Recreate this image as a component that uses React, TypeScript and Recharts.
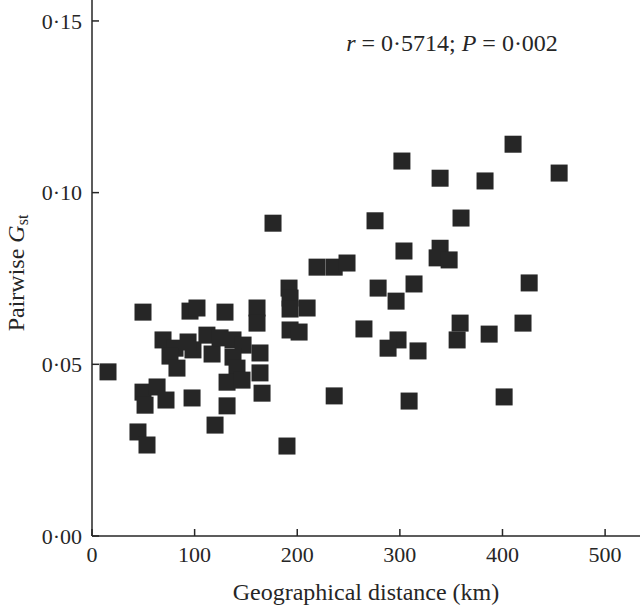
import { ScatterChart, Scatter, XAxis, YAxis, Label } from 'recharts'

// distance (km) and pairwise Gst
const distanceKm = [
  15.6, 49.7, 49.7, 63.4, 51.7, 72.1, 44.8, 53.6, 69.2, 80.9,
  76.0, 82.8, 98.4, 93.6, 112, 117, 124.8, 137.4, 147.2, 137.4,
  163.7, 141.3, 131.6, 146.2, 163.7, 165.7, 131.6, 119.9, 97.5, 95.5,
  102.3, 129.6, 160.8, 160.8, 176.4, 192, 193, 193, 209.6, 193,
  201.8, 219.3, 236, 190, 236, 302, 275.8, 248.5, 304, 278.8,
  296.3, 313.8, 265, 298.2, 288.5, 317.7, 309, 410.3, 339.2, 383,
  455.2, 359.6, 339.2, 336.3, 348, 426, 358.7, 355.8, 387, 420,
  401.6,
]
const pairwiseGst = [
  0.0478, 0.0652, 0.0419, 0.0434, 0.0381, 0.0396, 0.0303, 0.0265, 0.0571, 0.0547,
  0.0524, 0.0489, 0.0542, 0.0565, 0.0585, 0.053, 0.0577, 0.0571, 0.0556, 0.0521,
  0.0533, 0.0489, 0.0448, 0.0454, 0.0475, 0.0416, 0.0379, 0.0323, 0.0402, 0.0655,
  0.0664, 0.0652, 0.0664, 0.062, 0.0911, 0.0722, 0.0693, 0.0661, 0.0664, 0.06,
  0.0594, 0.0783, 0.0783, 0.0262, 0.0408, 0.1092, 0.0918, 0.0795, 0.083, 0.0722,
  0.0684, 0.0734, 0.0603, 0.0571, 0.0547, 0.0539, 0.0393, 0.1141, 0.1042, 0.1034,
  0.1057, 0.0926, 0.0838, 0.081, 0.0804, 0.0737, 0.062, 0.0571, 0.0588, 0.062,
  0.0405,
]
const xTicks = [0, 100, 200, 300, 400, 500]
const yTicks = [0, 0.05, 0.1, 0.15]

const data = distanceKm.map((x, i) => ({ x, y: pairwiseGst[i] }))

const font = '"Liberation Serif", "Times New Roman", serif'
const ink = '#262626'

const Square = (props: any) => {
  const { cx, cy } = props
  if (cx == null || cy == null) return null
  return <rect x={cx - 8.5} y={cy - 8.5} width={17} height={17} fill={ink} />
}

export default function App() {
  return (
    <div style={{ position: 'absolute', left: 0, top: 0, width: 640, height: 605, background: '#fff' }}>
      <ScatterChart width={640} height={605} margin={{ top: 0, right: 0, bottom: 0, left: 0 }}>
        <XAxis
          type="number"
          dataKey="x"
          domain={[0, 534]}
          ticks={xTicks}
          allowDataOverflow
          height={69}
          tickSize={-7}
          tickMargin={17}
          stroke={ink}
          strokeWidth={1.5}
          tick={{ fill: ink, fontSize: 22, fontFamily: font }}
        >
          <Label
            content={() => (
              <text x={366} y={600} textAnchor="middle" fill={ink} fontSize={24} fontFamily={font}>
                Geographical distance (km)
              </text>
            )}
          />
        </XAxis>
        <YAxis
          type="number"
          dataKey="y"
          domain={[0, 0.1561]}
          ticks={yTicks}
          allowDataOverflow
          width={92}
          tickSize={-7}
          tickMargin={17}
          stroke={ink}
          strokeWidth={1.5}
          tickFormatter={(v: number) => v.toFixed(2).replace('.', '·')}
          tick={{ fill: ink, fontSize: 22, fontFamily: font }}
        >
          <Label
            content={() => (
              <text
                x={16}
                y={273}
                transform="rotate(-90, 16, 273)"
                textAnchor="middle"
                dominantBaseline="central"
                fill={ink}
                fontSize={24}
                fontFamily={font}
              >
                Pairwise <tspan fontStyle="italic">G</tspan>
                <tspan fontSize={16} dy={6}>st</tspan>
              </text>
            )}
          />
        </YAxis>
        <Scatter data={data} fill={ink} shape={Square} isAnimationActive={false} />
        <text x={452} y={51} textAnchor="middle" fill={ink} fontSize={24} fontFamily={font}>
          <tspan fontStyle="italic">r</tspan> = 0·5714; <tspan fontStyle="italic">P</tspan> = 0·002
        </text>
      </ScatterChart>
    </div>
  )
}
